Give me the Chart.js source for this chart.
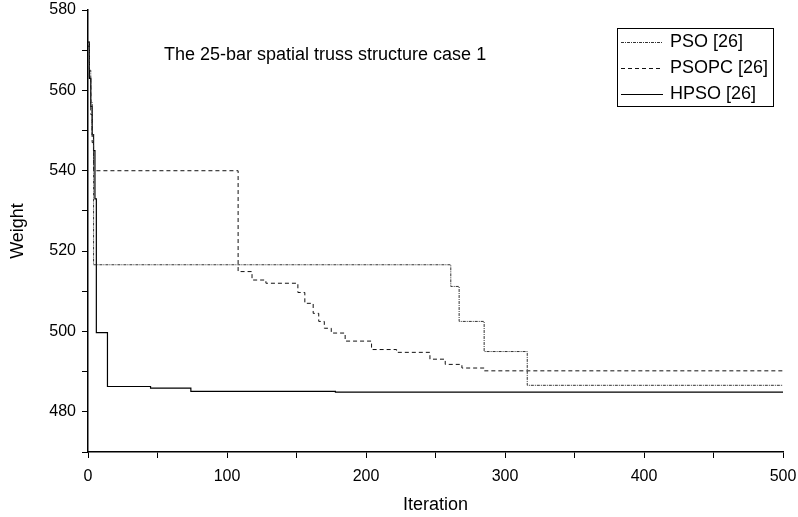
<!DOCTYPE html>
<html>
<head>
<meta charset="utf-8">
<title>25-bar truss convergence</title>
<script src="https://cdn.jsdelivr.net/npm/chart.js@4/dist/chart.umd.min.js"></script>
<style>
    html, body { margin: 0; padding: 0; background: #fff; }
    #wrap { width: 798px; height: 517px; }
</style>
</head>
<body>
<div id="wrap"><canvas id="convChart" width="798" height="517"></canvas></div>
<script>
// 迭代次数与重量（阶梯变化点）
const psoIter = [0, 1, 2, 3, 4, 261, 267, 285, 316, 500];
const psoWeight = [572, 565, 557, 549, 516.6, 511.2, 502.5, 495.0, 486.6, 486.6];

const psopcIter = [0, 1, 2, 3, 4, 108, 118, 128, 151, 156, 162, 166, 170, 175, 185, 204, 222, 246, 257, 269, 285, 500];
const psopcWeight = [571, 563, 554, 547, 540.0, 514.9, 512.8, 512.0, 509.7, 507.0, 504.5, 502.5, 500.8, 499.6, 497.6, 495.5, 494.8, 493.1, 491.8, 490.9, 490.2, 490.2];

const hpsoIter = [0, 1, 2, 3, 4, 5, 6, 14, 45, 74, 178, 500];
const hpsoWeight = [572, 563, 556, 549, 545, 533, 499.7, 486.3, 485.9, 485.1, 484.9, 484.9];

const seriesNames = ['PSO [26]', 'PSOPC [26]', 'HPSO [26]'];
const chartTitle = 'The 25-bar spatial truss structure case 1';

const FONT = '"Liberation Sans", Arial, Helvetica, sans-serif';

// 把两个数组拼成 {x, y}
function toPoints(xs, ys) {
    return xs.map((x, i) => ({ x: x, y: ys[i] }));
}

// 图内标题和图例（带边框）
const notesPlugin = {
    id: 'notes',
    afterDraw(chart) {
        const ctx = chart.ctx;
        const area = chart.chartArea;
        ctx.save();
        ctx.fillStyle = '#000';
        ctx.font = '18px ' + FONT;
        ctx.textBaseline = 'middle';
        ctx.textAlign = 'left';
        ctx.fillText(chartTitle, area.left + 76, area.top + 45);

        // 图例框
        const boxX = 617, boxY = 28, boxW = 156, boxH = 78;
        ctx.lineWidth = 1;
        ctx.strokeStyle = '#000';
        ctx.strokeRect(boxX + 0.5, boxY + 0.5, boxW, boxH);

        chart.data.datasets.forEach((ds, i) => {
            const y = boxY + 14 + i * 26;
            ctx.beginPath();
            ctx.setLineDash(ds.borderDash || []);
            ctx.strokeStyle = ds.borderColor;
            ctx.lineWidth = ds.borderWidth;
            ctx.moveTo(boxX + 4, y + 0.5);
            ctx.lineTo(boxX + 46, y + 0.5);
            ctx.stroke();
            ctx.setLineDash([]);
            ctx.fillText(ds.label, boxX + 53, y);
        });
        ctx.restore();
    }
};

document.addEventListener('DOMContentLoaded', function() {
    const ctx = document.getElementById('convChart').getContext('2d');

    new Chart(ctx, {
        type: 'line',
        data: {
            datasets: [
                {
                    label: seriesNames[0],
                    data: toPoints(psoIter, psoWeight),
                    borderColor: '#333',
                    borderWidth: 1,
                    borderDash: [3, 1, 1, 1]
                },
                {
                    label: seriesNames[1],
                    data: toPoints(psopcIter, psopcWeight),
                    borderColor: '#111',
                    borderWidth: 1,
                    borderDash: [4, 3]
                },
                {
                    label: seriesNames[2],
                    data: toPoints(hpsoIter, hpsoWeight),
                    borderColor: '#000',
                    borderWidth: 1.2
                }
            ]
        },
        options: {
            responsive: false,
            animation: false,
            devicePixelRatio: 1,
            layout: { padding: { left: 0, top: 10, right: 15, bottom: 0 } },
            elements: {
                point: { radius: 0 },
                line: { stepped: true, tension: 0, fill: false }
            },
            plugins: {
                legend: { display: false },
                tooltip: { enabled: false }
            },
            scales: {
                x: {
                    type: 'linear',
                    min: 0,
                    max: 500,
                    border: { color: '#000', width: 1.5 },
                    grid: { drawOnChartArea: false, drawTicks: true, tickLength: 6, color: '#000' },
                    ticks: {
                        stepSize: 50,
                        autoSkip: false,
                        maxRotation: 0,
                        padding: 9,
                        color: '#000',
                        font: { family: FONT, size: 16 },
                        callback: v => (v % 100 === 0 ? v : '')
                    },
                    title: {
                        display: true,
                        text: 'Iteration',
                        color: '#000',
                        font: { family: FONT, size: 18 },
                        padding: { top: 0, bottom: 1 }
                    },
                    afterFit: scale => {
                        scale.height = 65;
                        scale.paddingLeft = 0;
                        scale.paddingRight = 0;
                    }
                },
                y: {
                    min: 470,
                    max: 580,
                    border: { color: '#000', width: 1.5 },
                    grid: { drawOnChartArea: false, drawTicks: true, tickLength: 6, color: '#000' },
                    ticks: {
                        stepSize: 10,
                        autoSkip: false,
                        padding: 6,
                        color: '#000',
                        font: { family: FONT, size: 16 },
                        callback: v => (v % 20 === 0 ? v : '')
                    },
                    title: {
                        display: true,
                        text: 'Weight',
                        color: '#000',
                        font: { family: FONT, size: 18 },
                        padding: { top: 7, bottom: 0 }
                    },
                    afterFit: scale => {
                        scale.width = 88;
                        scale.paddingTop = 0;
                        scale.paddingBottom = 0;
                    }
                }
            }
        },
        plugins: [notesPlugin]
    });
});
</script>
</body>
</html>
